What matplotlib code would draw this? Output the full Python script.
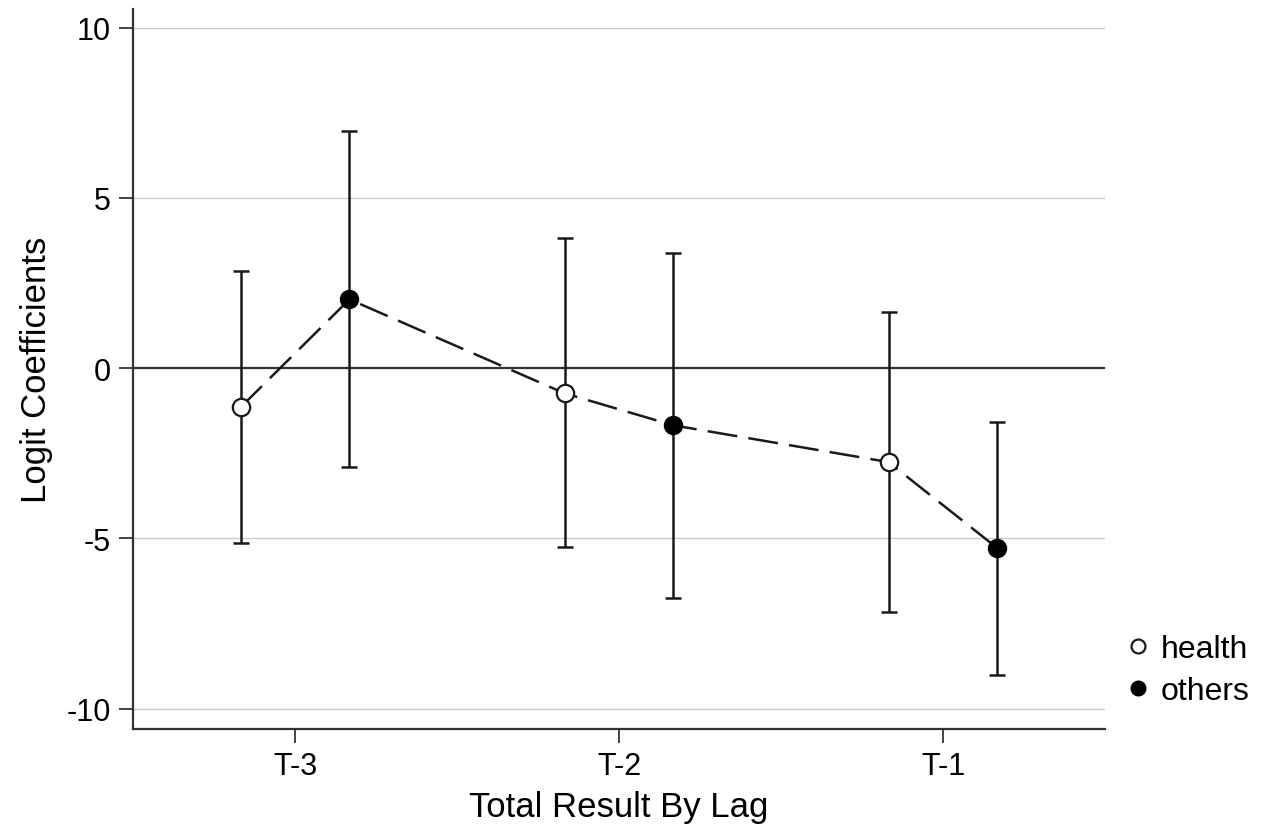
import numpy as np
import matplotlib
matplotlib.use("Agg")
import matplotlib.pyplot as plt
from matplotlib.lines import Line2D

plt.rcParams["font.family"] = ["Liberation Sans", "DejaVu Sans"]

lags = ["T-3", "T-2", "T-1"]
health_coef = [-1.15, -0.74, -2.76]
health_lo = [-5.15, -5.24, -7.15]
health_hi = [2.85, 3.82, 1.65]
others_coef = [2.02, -1.68, -5.29]
others_lo = [-2.91, -6.74, -9.0]
others_hi = [6.97, 3.38, -1.59]

pos = np.arange(1, len(lags) + 1)
off = 0.168

fig = plt.figure(figsize=(12.62, 8.29), dpi=100)
ax = fig.add_axes([0.1054, 0.1194, 0.7702, 0.8686])

for v in [-10, -5, 5, 10]:
    ax.axhline(v, color="#cccccc", lw=1, zorder=0)
ax.axhline(0, color="#333333", lw=1.6, zorder=1)

hx = pos - off
ox = pos + off
hc = np.array(health_coef)
oc = np.array(others_coef)

# connecting dashed line through both series in order
line_x = np.ravel(np.column_stack([hx, ox]))
line_y = np.ravel(np.column_stack([hc, oc]))
ax.plot(line_x, line_y, color="#1a1a1a", lw=1.8, dashes=(12, 4.5), zorder=2)

ax.errorbar(hx, hc, yerr=[hc - np.array(health_lo), np.array(health_hi) - hc],
            fmt="none", ecolor="#1a1a1a", elinewidth=1.8, capsize=5.8,
            capthick=1.8, zorder=3)
ax.errorbar(ox, oc, yerr=[oc - np.array(others_lo), np.array(others_hi) - oc],
            fmt="none", ecolor="#1a1a1a", elinewidth=1.8, capsize=5.8,
            capthick=1.8, zorder=3)
ax.plot(hx, hc, "o", ms=12.5, mfc="white", mec="#1a1a1a", mew=1.6, ls="none", zorder=4)
ax.plot(ox, oc, "o", ms=13, mfc="black", mec="black", ls="none", zorder=4)

ax.set_xlim(0.5, 3.5)
ax.set_ylim(-10.6, 10.55)
ax.set_xticks(pos)
ax.set_xticklabels(lags)
ax.set_yticks([-10, -5, 0, 5, 10])
ax.set_yticklabels(["-10", "-5", "0", "5", "10"])

for s in ["top", "right"]:
    ax.spines[s].set_visible(False)
for s in ["left", "bottom"]:
    ax.spines[s].set_linewidth(1.6)
    ax.spines[s].set_color("#333333")

ax.tick_params(axis="both", labelsize=22, length=10, width=1.3, color="#333333", pad=6)
ax.set_xlabel("Total Result By Lag", fontsize=25, labelpad=6)
ax.set_ylabel("Logit Coefficients", fontsize=25, labelpad=10)

handles = [
    Line2D([], [], marker="o", ls="none", ms=10, mfc="white", mec="#1a1a1a", mew=1.6),
    Line2D([], [], marker="o", ls="none", ms=10.5, mfc="black", mec="black"),
]
fig.legend(handles, ["health", "others"], loc="upper left",
           bbox_to_anchor=(0.8905, 0.234), frameon=False, fontsize=23,
           handletextpad=0.25, labelspacing=0.38, handlelength=0.9,
           borderaxespad=0, borderpad=0)

fig.savefig("out.png", dpi=100)
